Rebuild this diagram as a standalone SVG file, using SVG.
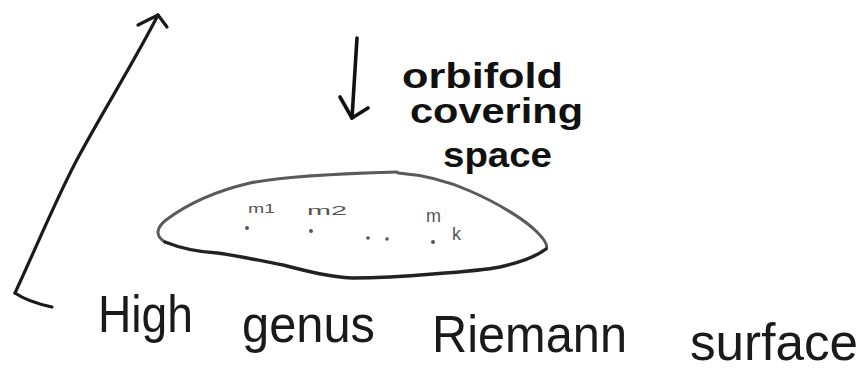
<svg xmlns="http://www.w3.org/2000/svg" width="862" height="373" viewBox="0 0 862 373">
<style>
.ink{fill:none;stroke:#1a1a1a;stroke-width:3.2;stroke-linecap:round;stroke-linejoin:round}
.pen{fill:none;stroke:#111;stroke-width:3.6;stroke-linecap:round;stroke-linejoin:round}
.gray{fill:none;stroke:#5a5a5a;stroke-width:3;stroke-linecap:round}
.big{font-family:"Liberation Sans","DejaVu Sans",sans-serif;font-size:52px;fill:#1a1a1a}
.mid{font-family:"Liberation Sans","DejaVu Sans",sans-serif;font-size:35px;font-weight:bold;fill:#111}
.small{font-family:"Liberation Sans","DejaVu Sans",sans-serif;font-size:13px;fill:#555}
.sub{font-size:18px}
.dot{fill:#555}
</style>
<rect width="862" height="373" fill="#fff"/>
<g id="connectors">
  <path class="ink" d="M15,293 C35,250 60,190 80,154 C105,108 135,60 158,15"/>
  <path class="ink" d="M138,25 L158,15 L167,27"/>
  <path class="ink" d="M15,293 C25,300 38,304 52,307"/>
  <path class="pen" d="M357,38 L352,118"/>
  <path class="pen" d="M340,97 L352,118 L368,108"/>
</g>
<g id="covering-label">
  <text class="mid" x="402" y="88" textLength="161" lengthAdjust="spacingAndGlyphs">orbifold</text>
  <text class="mid" x="410" y="123" textLength="173" lengthAdjust="spacingAndGlyphs">covering</text>
  <text class="mid" x="443" y="167" textLength="109" lengthAdjust="spacingAndGlyphs" fill="#333">space</text>
</g>
<g id="orbifold">
  <path class="gray" d="M165,242 C155,236 156,228 166,220 C190,202 220,190 250,183 C280,177 320,174 397,172"/>
  <path class="gray" d="M398,173 C425,175 450,182 470,191 C500,204 525,220 537,232 C545,240 548,246 546,249"/>
  <path d="M165,242 C180,248 200,252 217,253 C240,256 262,261 283,265 C310,272 330,277 352,278 C380,278 410,276 433,274 C460,272 485,270 500,267 C522,262 538,255 546,249" fill="none" stroke="#222" stroke-width="3.4" stroke-linecap="round"/>
  <circle class="dot" cx="247" cy="228" r="2"/>
  <circle class="dot" cx="311" cy="231" r="2"/>
  <circle class="dot" cx="368" cy="238" r="1.8"/>
  <circle class="dot" cx="387" cy="239" r="1.8"/>
  <circle class="dot" cx="433" cy="242" r="2"/>
  <text class="small" x="248" y="213" textLength="27" lengthAdjust="spacingAndGlyphs">m1</text>
  <text class="small" x="307" y="215" textLength="40" lengthAdjust="spacingAndGlyphs">m2</text>
  <text class="small sub" x="426" y="222">m<tspan x="452" y="240">k</tspan></text>
</g>
<g id="surface-label">
  <text class="big" x="98" y="332" textLength="95" lengthAdjust="spacingAndGlyphs">High</text>
  <text class="big" x="242" y="342" textLength="133" lengthAdjust="spacingAndGlyphs">genus</text>
  <text class="big" x="432" y="352" textLength="195" lengthAdjust="spacingAndGlyphs">Riemann</text>
  <text class="big" x="690" y="360" textLength="168" lengthAdjust="spacingAndGlyphs">surface</text>
</g>
</svg>
